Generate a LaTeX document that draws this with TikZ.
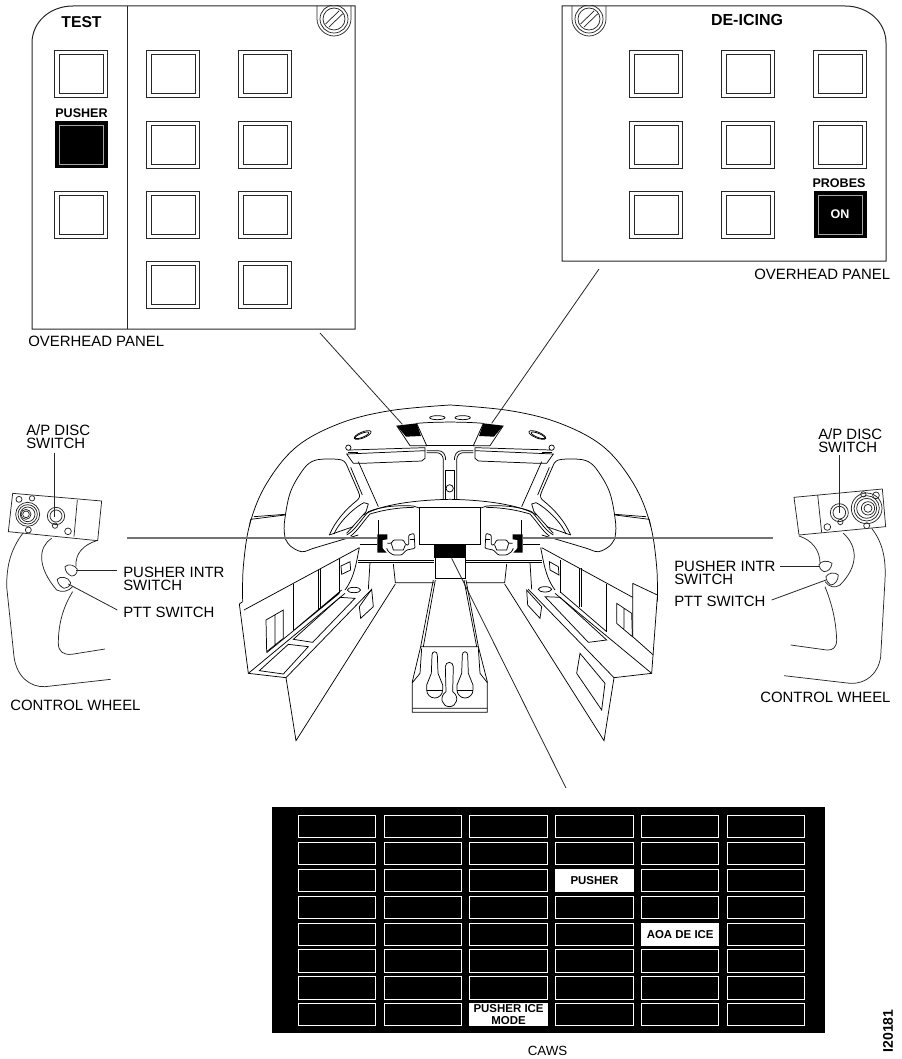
\documentclass[tikz,border=0pt]{standalone}
\usepackage{fontspec}
\setmainfont{Liberation Sans}
\newcommand{\fnt}[2]{\fontsize{#1}{#2}\selectfont}
\newcommand{\panelbtn}[2]{%
  \draw[btnline] (#1-26.5,#2-23.5) rectangle (#1+26.5,#2+23.5);
  \draw[btnline] (#1-22,#2-19.5) rectangle (#1+22,#2+19.5);}
\newcommand{\screw}[2]{%
  \begin{scope}
    \clip (#1-20,6) rectangle (#1+20,40);
    \draw[thinl] (#1-17,6) -- (#1-17,19) .. controls (#1-17,28) and (#1-9,36) .. (#1,36) .. controls (#1+9,36) and (#1+17,28) .. (#1+17,19) -- (#1+17,6);
    \draw[thinl] (#1,19) circle[radius=14];
    \draw[thinl] (#1,19) circle[radius=11];
    \draw[thinl] (#1-8.5,24) -- (#1+5,11);
    \draw[thinl] (#1-5,27) -- (#1+8.5,14);
  \end{scope}}
\newcommand{\halfcockpit}{%
  % roof
  \draw[ck] plot[smooth,tension=.6] coordinates {(38,665) (40,560) (60,430) (110,310) (200,200) (330,130) (480,92) (660,75)};
  % window
  \draw[ck] plot[smooth,tension=.6] coordinates {(165,470) (163,430) (180,340) (215,275) (245,245) (285,237) (335,240) (350,255)};
  \draw[ck] (350,255) -- (385,335) .. controls (392,350) and (388,355) .. (380,362) .. controls (345,390) and (315,425) .. (298,465);
  \draw[ck] plot[smooth,tension=.6] coordinates {(163,470) (180,497) (215,515) (250,505) (300,490) (385,465)};
  \draw[ck] (362,262) -- (397,345);
  \draw[ck] (402,368) .. controls (380,378) and (330,420) .. (312,462);
  \draw[ck] (402,368) -- (415,372) -- (408,395) -- (350,460);
  \draw[ck] (385,245) -- (445,380);
  \draw[ck] (62,418) -- (165,405);
  \draw[ck] (72,410) -- (165,403);
  \draw[ck] (62,418) -- (58,440);
  % top bits
  \draw[ck] (398,165) ellipse[x radius=27,y radius=9,rotate=22];
  \draw[ck] (396,166) ellipse[x radius=22,y radius=6,rotate=22];
  \draw[ck] (622,113) ellipse[x radius=23,y radius=6];
  \fill (500,137) -- (560,130) -- (573,168) -- (528,170) -- cycle;
  \draw[ck] (500,137) -- (540,197) -- (590,197) -- (560,130);
  % visor
  \draw[ck] (350,222) -- (585,212) -- (585,235) -- (575,243) -- (395,250) -- (370,250) -- cycle;
  \draw[ck] (358,210) -- (585,203) -- (585,212);
  \draw[ck,fill=white] (355,203) circle[radius=8];
  \draw[ck] (355,216) -- (385,216);
  % post
  \draw[ck] (590,218) -- (620,218) .. controls (632,218) and (640,228) .. (640,240) -- (640,358);
  \draw[ck] (590,212) -- (625,212) .. controls (640,212) and (647,225) .. (647,240);
  % glare shield
  \draw[ck] (298,465) -- (335,452) -- (370,440);
  \draw[ck] (350,465) .. controls (375,450) and (385,430) .. (415,395) .. controls (450,380) and (500,375) .. (550,378) -- (568,384);
  \draw[ck] (362,468) .. controls (385,450) and (395,430) .. (420,402) .. controls (460,390) and (500,383) .. (552,382);
  \draw[ck] (400,405) .. controls (450,375) and (550,360) .. (660,358);
  \draw[ck] (445,420) -- (445,465);
  % yoke
  \fill (442,463) -- (472,463) -- (472,478) -- (458,480) -- (458,505) -- (470,518) -- (442,518) -- cycle;
  \draw[ck,rounded corners=.8pt] (472,490) -- (484,490) -- (490,480) -- (520,480) -- (528,495) -- (536,495) -- (536,465) -- (552,460) -- (555,505) -- (530,510) -- (515,525) -- (490,525) -- (475,515) -- (470,505);
  \draw[ck] (484,490) -- (490,510) -- (520,510) -- (526,495);
  \draw[ck] (540,478) -- (552,478);
  % deck
  \draw[ck] (390,493) -- (440,493);
  \draw[ck] (385,540) -- (612,540);
  \draw[ck] (385,548) -- (612,548);
  \draw[ck] (420,548) -- (415,628);
  \draw[ck] (490,552) -- (496,608) -- (612,608);
  \draw[ck] (496,612) -- (198,1082) -- (168,893);
  \draw[ck] (388,503) .. controls (380,540) and (375,590) .. (345,630);
  \draw[ck] (168,893) -- (425,628);
}
\tikzset{
  btnline/.style={line width=.75pt,black!85},
  thinl/.style={line width=.55pt,black!85},
  edge1/.style={line width=.75pt,black!85},
  ck/.style={line width=.55pt,black},
  lead/.style={line width=.6pt,black!85},
  greyl/.style={line width=.9pt,black!55},
  lbl/.style={font=\fnt{11.2}{9.9},align=left,anchor=west,inner sep=0pt},
  lblb/.style={font=\bfseries\fnt{9.4}{9},align=center,inner sep=0pt},
  cawsbtn/.style={draw=white,line width=.7pt,fill=black,minimum width=58pt,minimum height=17pt,inner sep=0pt},
  cawson/.style={draw=white,line width=.7pt,fill=white,text=black,minimum width=58pt,minimum height=17pt,inner sep=0pt,font=\bfseries\fnt{8.6}{8.6},align=center},
}
\begin{document}
\begin{tikzpicture}[x=.75pt,y=-.75pt]
\useasboundingbox (0,0) rectangle (901,1059);
% ---------- left overhead panel
\draw[edge1] (32,43) .. controls (32,22) and (50,6) .. (73,6) -- (355,6) -- (355,329) -- (32,329) -- cycle;
\draw[edge1] (127,6) -- (127,329);
\screw{334}{19}
\foreach \r/\y in {0/74.5,2/215} {\panelbtn{81}{\y}}
\fill (54.5,121.5) rectangle (107.5,168.5);
\draw[line width=.7pt,black!35] (59.5,125.5) rectangle (103.5,164.5);
\foreach \x in {173,265} \foreach \y in {74.5,145,215,285} {\panelbtn{\x}{\y}}
\node[font=\bfseries\fnt{11.8}{12},inner sep=0pt] (test) at (81.5,22) {TEST};
\node[lblb] (pusherlbl) at (81.5,113.5) {PUSHER};
\node[lbl] (ovl) at (28,341.5) {OVERHEAD PANEL};
% ---------- right overhead panel
\draw[edge1] (845,6) .. controls (868,6) and (886,22) .. (886,43) -- (886,261) -- (562,261) -- (562,6) -- cycle;
\screw{589}{19}
\foreach \x in {656,748} \foreach \y in {74.5,145,215} {\panelbtn{\x}{\y}}
\foreach \y in {74.5,145} {\panelbtn{840}{\y}}
\fill (813.5,191.5) rectangle (866.5,238.5);
\draw[line width=.7pt,black!35] (818,195.5) rectangle (862,234.5);
\node[font=\bfseries\fnt{12}{12},inner sep=0pt] (deicing) at (747,20) {DE-ICING};
\node[lblb] (probes) at (839,183) {PROBES};
\node[lblb,text=white] (on) at (840,214.5) {ON};
\node[lbl] (ovr) at (754,274) {OVERHEAD PANEL};
% ---------- cockpit
\begin{scope}[shift={(230,380)},x=.25pt,y=-.25pt]
  \halfcockpit
  \begin{scope}[shift={(1320,0)},xscale=-1]
    \halfcockpit
  \end{scope}
  % centre
  \draw[ck] (560,130) .. controls (620,125) and (700,125) .. (760,130);
  \draw[ck] (590,197) -- (730,197);
  \draw[ck] (645,270) -- (645,358) (672,270) -- (672,358) (645,270) -- (672,270);
  \draw[ck] (659,325) circle[radius=11];
  \draw[ck] (568,382) -- (568,493) -- (750,493) -- (750,382) -- cycle;
  \fill (612,493) rectangle (707,533);
  \draw[ck] (615,533) -- (615,595) -- (705,595) -- (705,533);
  % pedestal
  \draw[ck] (610,600) -- (572,800) -- (547,905) -- (547,997) -- (772,997) -- (772,905) -- (745,800) -- (708,600);
  \draw[ck] (616,600) -- (580,800) (702,600) -- (740,800) (572,800) -- (745,800) (547,985) -- (772,985);
  \draw[ck] (575,805) -- (570,880) -- (547,908) (745,805) -- (750,880) -- (772,908);
  \foreach \c in {614,705} {
    \draw[ck] (\c-8,825) .. controls (\c-8,812) and (\c+8,812) .. (\c+8,825) -- (\c+10,880) -- (\c+24,915) -- (\c+24,930) .. controls (\c+24,943) and (\c+13,954) .. (\c,954) .. controls (\c-13,954) and (\c-24,943) .. (\c-24,930) -- (\c-24,915) -- (\c-10,880) -- cycle;
    \draw[ck] (\c-24,930) -- (\c+24,930);
  }
  \draw[ck,fill=white] (646,860) .. controls (646,843) and (670,843) .. (670,860) -- (668,935) .. controls (690,950) and (680,980) .. (658,980) .. controls (636,980) and (626,950) .. (648,935) -- cycle;
  % left details
  \draw[ck] (38,665) -- (28,672) -- (55,880) -- (168,893);
  \draw[ck] (42,690) -- (388,503);
  \draw[ck] (55,880) -- (345,640);
  \draw[ck] (110,818) -- (328,640) (190,752) -- (335,630);
  \draw[ck] (88,872) -- (160,882) -- (235,800) -- (175,793) -- cycle;
  \draw[ck] (190,778) -- (248,787) -- (375,655) -- (330,652) -- cycle;
  \draw[ck] (190,612) -- (190,750) (265,570) -- (265,690) (272,568) -- (272,685) (328,535) -- (328,640);
  \draw[ck] (108,720) -- (160,690) -- (160,775) -- (110,815) -- cycle (135,705) -- (135,795);
  \draw[ck] (333,558) -- (360,545) -- (362,570) -- (335,583) -- cycle;
  \draw[ck] (388,680) -- (425,628) -- (430,680) -- (392,715) -- cycle;
  \draw[ck] (372,630) ellipse[x radius=20,y radius=8];
  % right details
  \draw[ck] (1282,650) -- (1265,880) -- (1152,893);
  \draw[ck] (935,503) -- (1208,652);
  \draw[ck] (1208,610) -- (1282,645) (1208,610) -- (1208,770) -- (1270,825);
  \draw[ck] (1265,880) -- (975,640);
  \draw[ck] (1130,755) -- (990,635);
  \draw[ck] (945,650) -- (990,652) -- (1130,780) -- (1075,787) -- cycle;
  \draw[ck] (1050,820) -- (1125,910) -- (1115,990) -- (1040,880) -- cycle;
  \draw[ck] (890,630) -- (935,680) -- (930,715) -- (893,675) -- cycle;
  \draw[ck] (1048,565) -- (1048,680) (1055,565) -- (1055,680) (1130,612) -- (1130,755) (992,540) -- (992,640);
  \draw[ck] (1160,670) -- (1205,700) -- (1207,770) -- (1160,730) -- cycle (1182,685) -- (1182,745);
  \draw[ck] (958,545) -- (985,560) -- (987,585) -- (960,570) -- cycle;
  \draw[ck] (945,628) ellipse[x radius=20,y radius=8];
  % connector anchors
  \coordinate (tgl) at (517,133);
  \coordinate (tgr) at (785,130);
  \coordinate (tgc) at (665,535);
\end{scope}
\coordinate (ovlc) at (320,333);
\coordinate (ovrc) at (599,269);
\coordinate (cawc) at (566,788);
\draw[lead] (ovlc) -- (tgl);
\draw[lead] (ovrc) -- (tgr);
\draw[lead] (tgc) -- (cawc);
\coordinate (gl1) at (127,538);
\coordinate (gl2) at (377,538);
\coordinate (gr1) at (523,538);
\coordinate (gr2) at (773,538);
\draw[greyl] (gl1) -- (gl2);
\draw[greyl] (gr1) -- (gr2);
% ---------- left wheel
\begin{scope}[shift={(0,410)},x=.25pt,y=-.25pt]
  \draw[thinl] (38,250) -- (305,273) -- (293,392) -- (25,365) -- cycle;
  \draw[thinl] (232,270) -- (222,380);
  \foreach \p/\q/\r in {57/268/9,96/265/8,85/360/9,204/364/10,165/347/8} {\draw[thinl] (\p,\q) circle[radius=\r];}
  \foreach \r in {36,29,22} {\draw[thinl] (83,313) circle[radius=\r];}
  \foreach \r in {15,10} {\draw[thinl] (78,313) circle[radius=\r];}
  \draw[thinl] (168,318) circle[radius=26];
  \draw[thinl] (168,318) circle[radius=18];
  \draw[thinl] (70,368) .. controls (30,420) and (20,470) .. (20,530) -- (42,740) .. controls (50,800) and (90,832) .. (135,830) -- (332,808);
  \draw[thinl] (290,392) .. controls (250,405) and (225,430) .. (228,470);
  \draw[thinl] (218,545) .. controls (190,590) and (175,640) .. (175,700) .. controls (175,725) and (190,735) .. (215,733) -- (315,717);
  \draw[thinl] (155,385) .. controls (115,410) and (110,470) .. (170,540) .. controls (185,548) and (205,545) .. (218,530);
  \draw[thinl] (195,470) .. controls (205,460) and (225,465) .. (232,478) .. controls (232,490) and (225,498) .. (215,498) .. controls (205,495) and (195,485) .. (195,470) -- cycle;
  \draw[thinl] (172,508) .. controls (180,497) and (205,500) .. (212,518) .. controls (210,530) and (200,535) .. (192,535) .. controls (182,530) and (172,520) .. (172,508) -- cycle;
  \coordinate (wlsw) at (163,320);
  \coordinate (wlpi) at (228,482);
  \coordinate (wlpt) at (205,522);
  \coordinate (wlasl) at (163,128);
  \coordinate (wlpil) at (352,482);
  \coordinate (wlptl) at (352,600);
\end{scope}
\draw[lead] (wlasl) -- (wlsw);
\draw[lead] (wlpil) -- (wlpi);
\draw[lead] (wlptl) -- (wlpt);
\node[lbl] (lapd) at (26,437) {A/P DISC\\SWITCH};
\node[lbl] (lpi) at (123,578.5) {PUSHER INTR\\SWITCH};
\node[lbl] (lpt) at (123,612.5) {PTT SWITCH};
\node[lbl] (lcw) at (10,705) {CONTROL WHEEL};
% ---------- right wheel
\begin{scope}[shift={(670,410)},x=.25pt,y=-.25pt]
  \draw[thinl] (372,262) -- (637,237) -- (647,350) -- (387,375) -- cycle;
  \draw[thinl] (443,255) -- (455,368);
  \foreach \p/\q/\r in {580/253/8,618/256/10,590/347/9,472/351/10,511/336/8} {\draw[thinl] (\p,\q) circle[radius=\r];}
  \foreach \r in {46,38,30} {\draw[thinl] (590,295) circle[radius=\r];}
  \foreach \r in {20,12} {\draw[thinl] (594,295) circle[radius=\r];}
  \draw[thinl] (508,308) circle[radius=27];
  \draw[thinl] (508,308) circle[radius=19];
  \draw[thinl] (605,355) .. controls (640,400) and (648,450) .. (645,510) -- (632,740) .. controls (625,790) and (590,822) .. (540,820) -- (342,797);
  \draw[thinl] (387,378) .. controls (425,390) and (450,420) .. (450,460);
  \draw[thinl] (465,530) .. controls (485,580) and (498,630) .. (500,690) .. controls (500,712) and (488,722) .. (470,720) -- (362,705);
  \draw[thinl] (520,370) .. controls (565,410) and (565,470) .. (510,525) .. controls (495,535) and (478,532) .. (465,515);
  \draw[thinl] (447,465) .. controls (450,452) and (475,450) .. (486,460) .. controls (484,475) and (475,485) .. (462,485) .. controls (452,480) and (447,472) .. (447,465) -- cycle;
  \draw[thinl] (468,500) .. controls (475,488) and (495,485) .. (505,495) .. controls (505,510) and (495,525) .. (482,525) .. controls (475,520) and (468,512) .. (468,500) -- cycle;
  \coordinate (wrsw) at (507,310);
  \coordinate (wrpi) at (447,468);
  \coordinate (wrpt) at (468,510);
  \coordinate (wrasl) at (507,135);
  \coordinate (wrpil) at (330,468);
  \coordinate (wrptl) at (305,570);
\end{scope}
\draw[lead] (wrasl) -- (wrsw);
\draw[lead] (wrpil) -- (wrpi);
\draw[lead] (wrptl) -- (wrpt);
\node[lbl] (rapd) at (818,441) {A/P DISC\\SWITCH};
\node[lbl] (rpi) at (674,572.5) {PUSHER INTR\\SWITCH};
\node[lbl] (rpt) at (674,601) {PTT SWITCH};
\node[lbl] (rcw) at (760,697) {CONTROL WHEEL};
% ---------- CAWS
\fill (271.5,807) rectangle (825,1033);
\foreach \cx [count=\c] in {337,422.8,508.6,594.4,680.2,766} \foreach \cy [count=\r] in {826.5,853.5,880.5,907.3,934.3,961,988,1014.5} {
  \node[cawsbtn] (c\c r\r) at (\cx,\cy) {};
}
\node[cawson] (cpush) at (594.4,880.5) {PUSHER};
\node[cawson] (caoa) at (680.2,934.3) {AOA DE ICE};
\node[cawson] (cpim) at (508.6,1014.5) {PUSHER ICE\\MODE};
\node[font=\fnt{10}{10},inner sep=0pt] (caws) at (547.5,1051) {CAWS};
\node[font=\bfseries\fnt{10.5}{10},inner sep=0pt,rotate=90] (code) at (888,1031) {I20181};
\end{tikzpicture}
\end{document}
